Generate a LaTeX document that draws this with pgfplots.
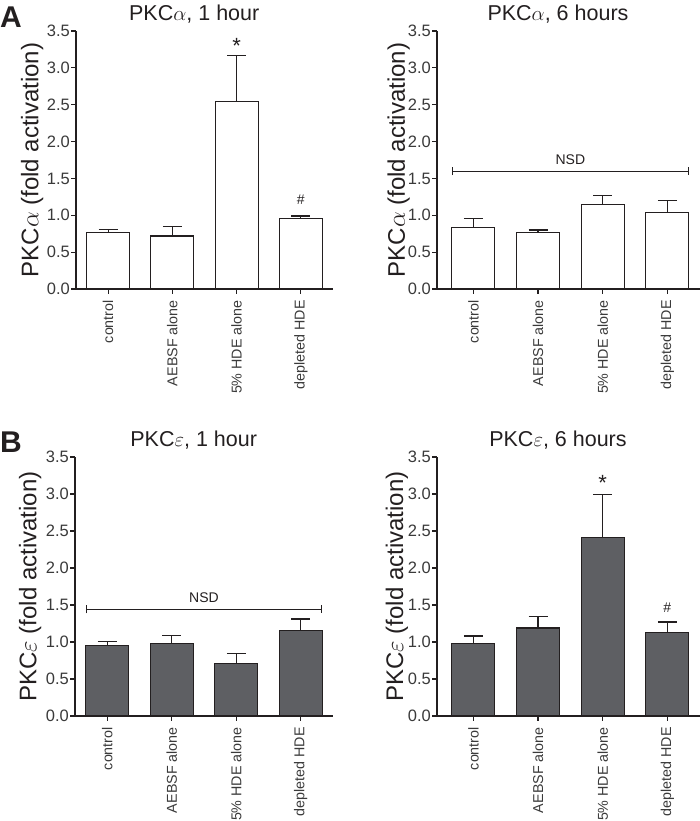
\documentclass[border=0pt]{standalone}
\usepackage{fontspec}
\setmainfont{Liberation Sans}
\usepackage{pgfplots}
\pgfplotsset{compat=1.18}
\usetikzlibrary{arrows.meta}
\definecolor{axc}{HTML}{231F20}
\definecolor{tickc}{HTML}{3A3A3A}
\definecolor{barB}{HTML}{5E5F63}
\pgfplotsset{
  common/.style={
    scale only axis,
    height=258pt,
    ymin=0, ymax=3.5,
    ytick={0,0.5,1,1.5,2,2.5,3,3.5},
    xtick={0,1,2,3},
    xticklabels={control, AEBSF alone, 5\% HDE alone, depleted HDE},
    axis x line=bottom, axis y line=left,
    axis line style={-, line width=1.6pt, color=axc},
    tick align=outside,
    major tick length=5pt,
    tick style={line width=1.2pt, color=axc},
    /pgf/number format/assume math mode=true,
    xticklabel shift=5pt,
    y tick label style={font=\fontsize{16.5}{16.5}\selectfont, color=tickc, inner sep=1pt,
      /pgf/number format/fixed, /pgf/number format/fixed zerofill, /pgf/number format/precision=1},
    x tick label style={font=\fontsize{14.3}{14.3}\selectfont, color=tickc, rotate=90, anchor=east, inner sep=1pt},
    ylabel style={font=\fontsize{24}{24}\selectfont, color=axc, anchor=center},
    title style={font=\fontsize{21.5}{21.5}\selectfont, color=axc, at={(axis description cs:0.46,1)}, anchor=base, yshift=4pt},
    clip=false,
  },
  barsA/.style={ybar, bar width=43pt, fill=white, draw=axc, line width=1.2pt,
    error bars/.cd, y dir=plus, y explicit,
    error bar style={line width=1.2pt, color=axc},
    error mark options={rotate=90, mark size=9.5pt, line width=1.2pt, color=axc}},
  barsB/.style={ybar, bar width=43pt, fill=barB, draw=axc, line width=1.2pt,
    error bars/.cd, y dir=plus, y explicit,
    error bar style={line width=1.2pt, color=axc},
    error mark options={rotate=90, mark size=9.5pt, line width=1.2pt, color=axc}},
}
\begin{document}
\begin{tikzpicture}
\useasboundingbox (0,0) rectangle (700pt,821pt);
\node[anchor=base west, font=\fontsize{30}{30}\selectfont\bfseries, text=axc, inner sep=0pt] at (0pt,793pt) {A};
\node[anchor=base west, font=\fontsize{30}{30}\selectfont\bfseries, text=axc, inner sep=0pt] at (0pt,368pt) {B};

% A1
\begin{axis}[common, at={(76pt,532pt)}, anchor=south west, width=257pt,
  xmin=-0.5, xmax=3.5,
  ylabel={PKC$\alpha$ (fold activation)},
  ylabel style={at={(axis description cs:-0.171,0.5)}},
  title={PKC$\alpha$, 1 hour}]
\addplot[barsA] coordinates {(0,0.77) +- (0,0.04) (1,0.72) +- (0,0.13) (2,2.54) +- (0,0.63) (3,0.96) +- (0,0.03)};
\node[font=\fontsize{22}{22}\selectfont, text=axc] at (axis cs:2,3.3) {*};
\node[font=\fontsize{14}{14}\selectfont, text=axc] at (axis cs:3,1.21) {\#};
\end{axis}

% A2
\begin{axis}[common, at={(437pt,532pt)}, anchor=south west, width=263pt,
  xmin=-0.563, xmax=3.506,
  ylabel={PKC$\alpha$ (fold activation)},
  ylabel style={at={(axis description cs:-0.146,0.5)}},
  title={PKC$\alpha$, 6 hours}]
\addplot[barsA] coordinates {(0,0.83) +- (0,0.13) (1,0.77) +- (0,0.03) (2,1.15) +- (0,0.12) (3,1.04) +- (0,0.16)};
\addplot[{Bar[width=8pt]}-{Bar[width=8pt]}, line width=1pt, color=axc] coordinates {(-0.335,1.6) (3.335,1.6)};
\node[font=\fontsize{14}{14}\selectfont, text=axc] at (axis cs:1.5,1.75) {NSD};
\end{axis}

% B1
\begin{axis}[common, at={(75pt,105pt)}, anchor=south west, width=258pt, height=259pt,
  xmin=-0.5, xmax=3.5,
  ylabel={PKC$\varepsilon$ (fold activation)},
  ylabel style={at={(axis description cs:-0.174,0.5)}},
  title={PKC$\varepsilon$, 1 hour}]
\addplot[barsB] coordinates {(0,0.95) +- (0,0.06) (1,0.98) +- (0,0.11) (2,0.71) +- (0,0.13) (3,1.15) +- (0,0.16)};
\addplot[{Bar[width=8pt]}-{Bar[width=8pt]}, line width=1pt, color=axc] coordinates {(-0.335,1.44) (3.335,1.44)};
\node[font=\fontsize{14}{14}\selectfont, text=axc] at (axis cs:1.5,1.6) {NSD};
\end{axis}

% B2
\begin{axis}[common, at={(437pt,105pt)}, anchor=south west, width=263pt, height=259pt,
  xmin=-0.563, xmax=3.506,
  ylabel={PKC$\varepsilon$ (fold activation)},
  ylabel style={at={(axis description cs:-0.152,0.5)}},
  title={PKC$\varepsilon$, 6 hours}]
\addplot[barsB] coordinates {(0,0.98) +- (0,0.10) (1,1.19) +- (0,0.15) (2,2.41) +- (0,0.58) (3,1.13) +- (0,0.14)};
\node[font=\fontsize{22}{22}\selectfont, text=axc] at (axis cs:2,3.15) {*};
\node[font=\fontsize{14}{14}\selectfont, text=axc] at (axis cs:3,1.47) {\#};
\end{axis}
\end{tikzpicture}
\end{document}
